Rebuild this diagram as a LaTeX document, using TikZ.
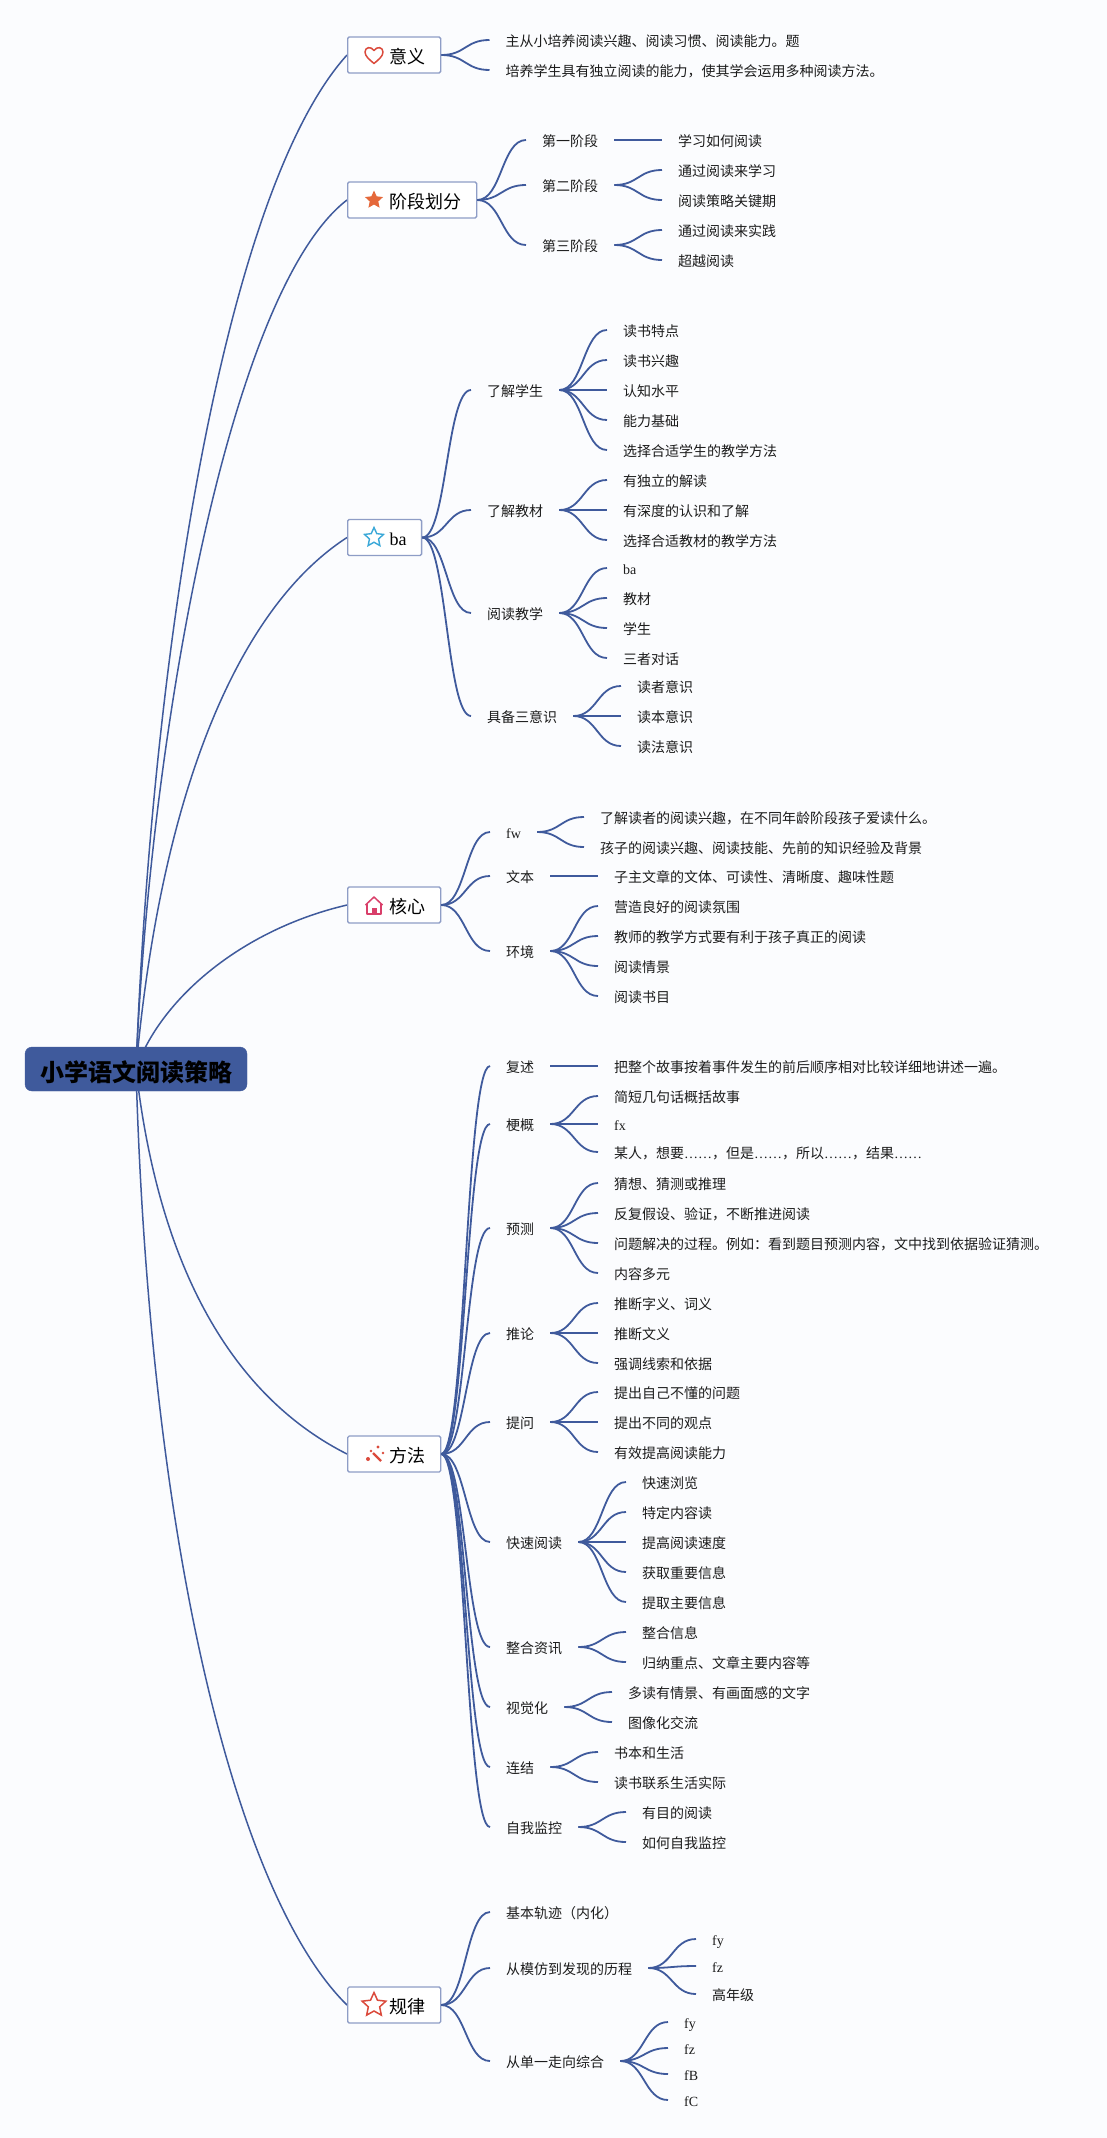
\documentclass[tikz,border=0pt]{standalone}
\usepackage{fontspec}
\setmainfont{Noto Sans CJK SC}
\newfontfamily\latinfont{Liberation Serif}
\usetikzlibrary{calc, backgrounds, shapes.geometric}

\definecolor{linkblue}{HTML}{3F5A9C}
\definecolor{boxline}{HTML}{8E9DC6}
\definecolor{pagebg}{HTML}{FBFCFE}
\definecolor{inktext}{HTML}{1C1C1C}
\definecolor{iconred}{HTML}{DB4A3C}
\definecolor{starorange}{HTML}{E5683A}
\definecolor{starcyan}{HTML}{3AA8D8}
\definecolor{housepink}{HTML}{D93F6A}

% child link: leaves flat, arrives flat
\newcommand{\branch}[2]{\draw[link] (#1.east) .. controls ($(#1.east)!0.5!(#1.east-|#2.west)$) and ($(#2.west)!0.5!(#2.west-|#1.east)$) .. (#2.west);}

\begin{document}
\begin{tikzpicture}[
    x=1pt, y=-1pt,
    link/.style={draw=linkblue, line width=1.8pt},
    trunk/.style={draw=linkblue, line width=1.5pt},
    rootbox/.style={draw=linkblue, fill=linkblue, rounded corners=7pt, minimum width=222pt, minimum height=44pt, text height=24pt, text depth=0pt, text=black, font=\fontsize{24pt}{28pt}\selectfont\bfseries},
    mainbox/.style={anchor=west, draw=boxline, line width=1.3pt, fill=white, rounded corners=1.5pt, minimum height=36pt, inner xsep=15pt, inner ysep=0pt, text height=17.3pt, text depth=0.7pt, text=black, font=\fontsize{18pt}{22pt}\selectfont, execute at begin node=\hspace*{27pt}},
    leaf/.style={anchor=west, inner xsep=16pt, inner ysep=0pt, text height=13.3pt, text depth=0.7pt, text=inktext, font=\fontsize{14pt}{16pt}\selectfont},
    starmark/.style={star, star points=5, star point ratio=2.1, minimum size=#1, inner sep=0pt},
    icon/.style={line width=1.5pt, line join=round}
]

\begin{scope}[on background layer]
    \fill[pagebg] (0,0) rectangle (1107,2138);
\end{scope}
\useasboundingbox (0,0) rectangle (1107,2138);

% Root and main boxes
\node[rootbox] (root) at (136,1069) {小学语文阅读策略};
\node[mainbox] (yiyi) at (347,55) {意义};
\node[mainbox] (jieduan) at (347,200) {阶段划分};
\node[mainbox] (ba) at (347,537.5) {\latinfont ba};
\node[mainbox] (hexin) at (347,905) {核心};
\node[mainbox] (fangfa) at (347,1454) {方法};
\node[mainbox] (guilv) at (347,2005) {规律};

% Icons
\begin{scope}[shift={(yiyi.west)}, xshift=27pt]
    \draw[icon, draw=iconred] (0,-4.5) .. controls (-3,-9) and (-9,-8) .. (-9,-3) .. controls (-9,1.5) and (-4,5) .. (0,8.5) .. controls (4,5) and (9,1.5) .. (9,-3) .. controls (9,-8) and (3,-9) .. (0,-4.5) -- cycle;
\end{scope}
\node[starmark=19pt, fill=starorange] (starjd) at ([xshift=27pt]jieduan.west) {};
\node[starmark=20pt, draw=starcyan, line width=1.4pt] (starba) at ([xshift=27pt]ba.west) {};
\begin{scope}[shift={(hexin.west)}, xshift=27pt]
    \draw[icon, draw=housepink] (-7,-1) -- (-7,9) -- (7,9) -- (7,-1);
    \draw[icon, draw=housepink] (-8.5,0) -- (0,-8) -- (8.5,0);
    \fill[housepink] (-2.5,3) rectangle (2.5,9);
\end{scope}
\begin{scope}[shift={(fangfa.west)}, xshift=27pt]
    \draw[icon, draw=iconred, line width=2.2pt] (-1,-1) -- (7,7);
    \fill[iconred] (-6,5) circle (2) (4,-7) circle (1.6) (-3,-3) circle (1.3) (9,-1) circle (1.3);
\end{scope}
\node[starmark=25pt, draw=iconred, line width=1.5pt] (stargl) at ([xshift=27pt]guilv.west) {};

% Trunk links, under the root box
\begin{scope}[on background layer]
    \draw[trunk] (root.center) .. controls (152,650) and (225,190) .. (yiyi.west);
    \draw[trunk] (root.center) .. controls (150,730) and (230,290) .. (jieduan.west);
    \draw[trunk] (root.center) .. controls (160,800) and (235,610) .. (ba.west);
    \draw[trunk] (root.center) .. controls (160,1000) and (240,930) .. (hexin.west);
    \draw[trunk] (root.center) .. controls (160,1280) and (240,1400) .. (fangfa.west);
    \draw[trunk] (root.center) .. controls (150,1560) and (240,1900) .. (guilv.west);
\end{scope}

% Yiyi
\node[leaf] (yy1) at (489.5,40) {主从小培养阅读兴趣、阅读习惯、阅读能力。题};
\node[leaf] (yy2) at (489.5,70) {培养学生具有独立阅读的能力，使其学会运用多种阅读方法。};
\foreach \kid in {yy1,yy2} {\branch{yiyi}{\kid}}

% Jieduan
\node[leaf] (jd1) at (526,140) {第一阶段};
\node[leaf] (jd2) at (526,185) {第二阶段};
\node[leaf] (jd3) at (526,245) {第三阶段};
\node[leaf] (jd1a) at (662,140) {学习如何阅读};
\node[leaf] (jd2a) at (662,170) {通过阅读来学习};
\node[leaf] (jd2b) at (662,200) {阅读策略关键期};
\node[leaf] (jd3a) at (662,230) {通过阅读来实践};
\node[leaf] (jd3b) at (662,260) {超越阅读};
\foreach \kid in {jd1,jd2,jd3} {\branch{jieduan}{\kid}}
\branch{jd1}{jd1a}
\foreach \kid in {jd2a,jd2b} {\branch{jd2}{\kid}}
\foreach \kid in {jd3a,jd3b} {\branch{jd3}{\kid}}

% Ba
\node[leaf] (ba1) at (471,390) {了解学生};
\node[leaf] (ba2) at (471,510) {了解教材};
\node[leaf] (ba3) at (471,613) {阅读教学};
\node[leaf] (ba4) at (471,716) {具备三意识};
\node[leaf] (ba1a) at (607,330) {读书特点};
\node[leaf] (ba1b) at (607,360) {读书兴趣};
\node[leaf] (ba1c) at (607,390) {认知水平};
\node[leaf] (ba1d) at (607,420) {能力基础};
\node[leaf] (ba1e) at (607,450) {选择合适学生的教学方法};
\node[leaf] (ba2a) at (607,480) {有独立的解读};
\node[leaf] (ba2b) at (607,510) {有深度的认识和了解};
\node[leaf] (ba2c) at (607,540) {选择合适教材的教学方法};
\node[leaf] (ba3a) at (607,568) {\latinfont ba};
\node[leaf] (ba3b) at (607,598) {教材};
\node[leaf] (ba3c) at (607,628) {学生};
\node[leaf] (ba3d) at (607,658) {三者对话};
\node[leaf] (ba4a) at (621,686) {读者意识};
\node[leaf] (ba4b) at (621,716) {读本意识};
\node[leaf] (ba4c) at (621,746) {读法意识};
\foreach \kid in {ba1,ba2,ba3,ba4} {\branch{ba}{\kid}}
\foreach \kid in {ba1a,ba1b,ba1c,ba1d,ba1e} {\branch{ba1}{\kid}}
\foreach \kid in {ba2a,ba2b,ba2c} {\branch{ba2}{\kid}}
\foreach \kid in {ba3a,ba3b,ba3c,ba3d} {\branch{ba3}{\kid}}
\foreach \kid in {ba4a,ba4b,ba4c} {\branch{ba4}{\kid}}

% Hexin
\node[leaf] (hx1) at (490,832) {\latinfont fw};
\node[leaf] (hx2) at (490,876) {文本};
\node[leaf] (hx3) at (490,951) {环境};
\node[leaf] (hx1a) at (584,817) {了解读者的阅读兴趣，在不同年龄阶段孩子爱读什么。};
\node[leaf] (hx1b) at (584,847) {孩子的阅读兴趣、阅读技能、先前的知识经验及背景};
\node[leaf] (hx2a) at (598,876) {子主文章的文体、可读性、清晰度、趣味性题};
\node[leaf] (hx3a) at (598,906) {营造良好的阅读氛围};
\node[leaf] (hx3b) at (598,936) {教师的教学方式要有利于孩子真正的阅读};
\node[leaf] (hx3c) at (598,966) {阅读情景};
\node[leaf] (hx3d) at (598,996) {阅读书目};
\foreach \kid in {hx1,hx2,hx3} {\branch{hexin}{\kid}}
\foreach \kid in {hx1a,hx1b} {\branch{hx1}{\kid}}
\branch{hx2}{hx2a}
\foreach \kid in {hx3a,hx3b,hx3c,hx3d} {\branch{hx3}{\kid}}

% Fangfa
\node[leaf] (ff1) at (490,1066) {复述};
\node[leaf] (ff2) at (490,1124) {梗概};
\node[leaf] (ff3) at (490,1228) {预测};
\node[leaf] (ff4) at (490,1333) {推论};
\node[leaf] (ff5) at (490,1422) {提问};
\node[leaf] (ff6) at (490,1542) {快速阅读};
\node[leaf] (ff7) at (490,1647) {整合资讯};
\node[leaf] (ff8) at (490,1707) {视觉化};
\node[leaf] (ff9) at (490,1767) {连结};
\node[leaf] (ff10) at (490,1827) {自我监控};
\node[leaf] (ff1a) at (598,1066) {把整个故事按着事件发生的前后顺序相对比较详细地讲述一遍。};
\node[leaf] (ff2a) at (598,1096) {简短几句话概括故事};
\node[leaf] (ff2b) at (598,1124) {\latinfont fx};
\node[leaf] (ff2c) at (598,1152) {某人，想要{\latinfont ……}，但是{\latinfont ……}，所以{\latinfont ……}，结果{\latinfont ……}};
\node[leaf] (ff3a) at (598,1183) {猜想、猜测或推理};
\node[leaf] (ff3b) at (598,1213) {反复假设、验证，不断推进阅读};
\node[leaf] (ff3c) at (598,1243) {问题解决的过程。例如：看到题目预测内容，文中找到依据验证猜测。};
\node[leaf] (ff3d) at (598,1273) {内容多元};
\node[leaf] (ff4a) at (598,1303) {推断字义、词义};
\node[leaf] (ff4b) at (598,1333) {推断文义};
\node[leaf] (ff4c) at (598,1363) {强调线索和依据};
\node[leaf] (ff5a) at (598,1392) {提出自己不懂的问题};
\node[leaf] (ff5b) at (598,1422) {提出不同的观点};
\node[leaf] (ff5c) at (598,1452) {有效提高阅读能力};
\node[leaf] (ff6a) at (626,1482) {快速浏览};
\node[leaf] (ff6b) at (626,1512) {特定内容读};
\node[leaf] (ff6c) at (626,1542) {提高阅读速度};
\node[leaf] (ff6d) at (626,1572) {获取重要信息};
\node[leaf] (ff6e) at (626,1602) {提取主要信息};
\node[leaf] (ff7a) at (626,1632) {整合信息};
\node[leaf] (ff7b) at (626,1662) {归纳重点、文章主要内容等};
\node[leaf] (ff8a) at (612,1692) {多读有情景、有画面感的文字};
\node[leaf] (ff8b) at (612,1722) {图像化交流};
\node[leaf] (ff9a) at (598,1752) {书本和生活};
\node[leaf] (ff9b) at (598,1782) {读书联系生活实际};
\node[leaf] (ff10a) at (626,1812) {有目的阅读};
\node[leaf] (ff10b) at (626,1842) {如何自我监控};
\foreach \kid in {ff1,ff2,ff3,ff4,ff5,ff6,ff7,ff8,ff9,ff10} {\branch{fangfa}{\kid}}
\branch{ff1}{ff1a}
\foreach \kid in {ff2a,ff2b,ff2c} {\branch{ff2}{\kid}}
\foreach \kid in {ff3a,ff3b,ff3c,ff3d} {\branch{ff3}{\kid}}
\foreach \kid in {ff4a,ff4b,ff4c} {\branch{ff4}{\kid}}
\foreach \kid in {ff5a,ff5b,ff5c} {\branch{ff5}{\kid}}
\foreach \kid in {ff6a,ff6b,ff6c,ff6d,ff6e} {\branch{ff6}{\kid}}
\foreach \kid in {ff7a,ff7b} {\branch{ff7}{\kid}}
\foreach \kid in {ff8a,ff8b} {\branch{ff8}{\kid}}
\foreach \kid in {ff9a,ff9b} {\branch{ff9}{\kid}}
\foreach \kid in {ff10a,ff10b} {\branch{ff10}{\kid}}

% Guilv
\node[leaf] (gl1) at (490,1912) {基本轨迹（内化）};
\node[leaf] (gl2) at (490,1968) {从模仿到发现的历程};
\node[leaf] (gl3) at (490,2061) {从单一走向综合};
\node[leaf] (gl2a) at (696,1939) {\latinfont fy};
\node[leaf] (gl2b) at (696,1966) {\latinfont fz};
\node[leaf] (gl2c) at (696,1994) {高年级};
\node[leaf] (gl3a) at (668,2022) {\latinfont fy};
\node[leaf] (gl3b) at (668,2048) {\latinfont fz};
\node[leaf] (gl3c) at (668,2074) {\latinfont fB};
\node[leaf] (gl3d) at (668,2100) {\latinfont fC};
\foreach \kid in {gl1,gl2,gl3} {\branch{guilv}{\kid}}
\foreach \kid in {gl2a,gl2b,gl2c} {\branch{gl2}{\kid}}
\foreach \kid in {gl3a,gl3b,gl3c,gl3d} {\branch{gl3}{\kid}}

\end{tikzpicture}
\end{document}
